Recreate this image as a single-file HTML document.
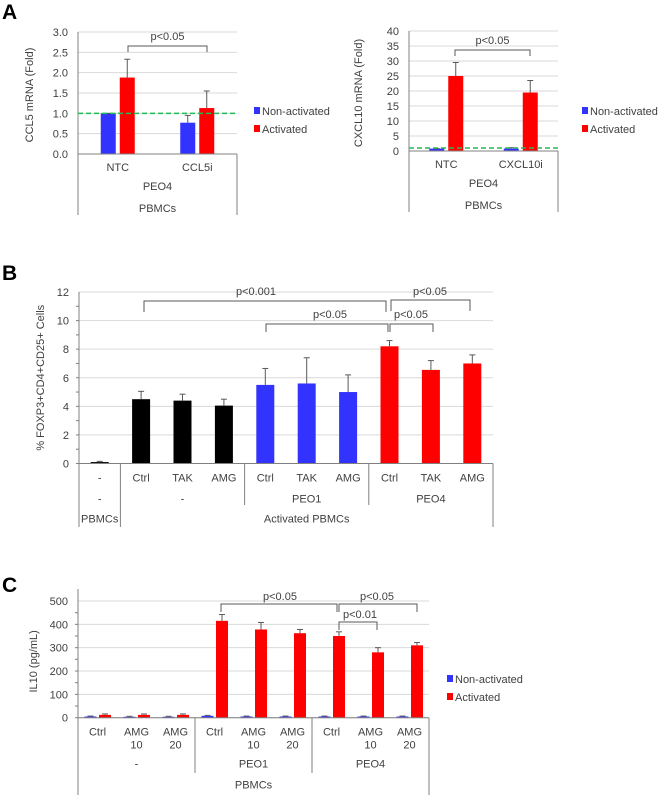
<!DOCTYPE html>
<html><head><meta charset="utf-8">
<style>
body{margin:0;background:#fff;width:661px;height:795px;overflow:hidden}
svg{display:block;font-family:"Liberation Sans",sans-serif}
</style></head>
<body>
<svg id="fig" width="661" height="795" viewBox="0 0 661 795"></svg>
<script>
// Panel A left (CCL5)
const aCats = ["NTC","CCL5i"];
const aBlue = [1.0, 0.77];
const aBlueErr = [1.0, 0.95];
const aRed = [1.88, 1.13];
const aRedErr = [2.33, 1.55];
const aTicks = ["0.0","0.5","1.0","1.5","2.0","2.5","3.0"];
// Panel A right (CXCL10)
const a2Cats = ["NTC","CXCL10i"];
const a2Blue = [0.8, 0.8];
const a2BlueErr = [0.8, 1.1];
const a2Red = [25, 19.5];
const a2RedErr = [29.5, 23.5];
const a2Ticks = ["0","5","10","15","20","25","30","35","40"];
// Panel B
const bCats = ["-","Ctrl","TAK","AMG","Ctrl","TAK","AMG","Ctrl","TAK","AMG"];
const bVals = [0.1,4.5,4.4,4.05,5.5,5.6,5.0,8.2,6.55,7.0];
const bErr = [0.15,5.05,4.85,4.5,6.65,7.4,6.2,8.6,7.2,7.6];
const bColors = ["#000","#000","#000","#000","#3333ff","#3333ff","#3333ff","#ff0000","#ff0000","#ff0000"];
const bTicks = ["0","2","4","6","8","10","12"];
// Panel C
const cCats1 = ["Ctrl","AMG","AMG","Ctrl","AMG","AMG","Ctrl","AMG","AMG"];
const cCats2 = ["","10","20","","10","20","","10","20"];
const cBlue = [5,4,4,8,5,5,5,5,5];
const cBlueErr = [7,6,6,10,7,7,7,7,7];
const cRed = [12,12,12,415,378,362,350,280,310];
const cRedErr = [16,16,16,442,408,378,368,300,322];
const cTicks = ["0","100","200","300","400","500"];

const svg = document.getElementById('fig');
const NS = "http://www.w3.org/2000/svg";
function el(tag, attrs, parent){
  const e = document.createElementNS(NS, tag);
  for (const k in attrs) e.setAttribute(k, attrs[k]);
  (parent||svg).appendChild(e);
  return e;
}
function txt(x,y,s,size,anchor,parent,extra){
  const t = el('text',{x:x,y:y,'font-size':size,'text-anchor':anchor||'middle',fill:'#404040'},parent);
  if(extra) for(const k in extra) t.setAttribute(k,extra[k]);
  t.textContent = s;
  return t;
}
function group(name){
  const g = el('g',{});
  
  
  return g;
}
function yAxis(g, x0, x1, yOf, ticks, minor){
  ticks.forEach(t=>{
    const v=parseFloat(t), y=yOf(v);
    const gl = el('line',{x1:x0,x2:x1,y1:y,y2:y,stroke:'#d9d9d9','stroke-width':1},g);
    
    
    const tl = txt(x0-10,y+4,t,11,'end',g);
    
    
  });
  if(minor){
    for(let i=0;i<ticks.length-1;i++){
      const a=parseFloat(ticks[i]), b=parseFloat(ticks[i+1]);
      [a,(a+b)/2].forEach(v=>el('line',{x1:x0-3,x2:x0,y1:yOf(v),y2:yOf(v),stroke:'#808080'},g));
    }
  }
}
function errBar(g,cx,y1,y2){
  el('line',{x1:cx,x2:cx,y1:y1,y2:y2,stroke:'#595959','stroke-width':1},g);
  el('line',{x1:cx-3,x2:cx+3,y1:y2,y2:y2,stroke:'#595959','stroke-width':1},g);
}
function bracket(g,xa,xb,top,bot,label,tx,ty){
  const p = el('path',{d:`M${xa},${bot}V${top}H${xb}V${bot}`,fill:'none',stroke:'#595959','stroke-width':1},g);
  
  
  const t = txt(tx,ty,label,11,'middle',g);
  
  
}
function legend(g,x,y){
  const r1 = el('rect',{x:x,y:y-4,width:6,height:7,fill:'#3333ff'},g);
  
  
  const t1 = txt(x+8,y+4,'Non-activated',11,'start',g);
  
  
  const r2 = el('rect',{x:x,y:y+14,width:6,height:7,fill:'#ff0000'},g);
  
  
  const t2 = txt(x+8,y+22,'Activated',11,'start',g);
  
  
}
function panelLetter(s,x,y){
  const t = el('text',{x:x,y:y,'font-size':21,'font-weight':'bold',fill:'#000'});
  t.textContent=s;
  
  
}

// ---------- Panel A ----------
panelLetter('A',2,19);
function panelA(name,cats,blue,blueErr,red,redErr,ticks,X0,X1,Y0,Ytop,vmax,ytitle,titleX,legX,brk){
  const g = group(name);
  const yOf = v => Y0 - v/vmax*(Y0-Ytop);
  yAxis(g,X0,X1,yOf,ticks,false);
  const cw = (X1-X0)/cats.length;
  cats.forEach((c,i)=>{
    const cx = X0+cw*(i+0.5);
    const bw = 15;
    const b = el('rect',{x:cx-bw-2,y:yOf(blue[i]),width:bw,height:Y0-yOf(blue[i]),fill:'#3333ff'},g);
    
    
    errBar(g,cx-bw/2-2,yOf(blue[i]),yOf(blueErr[i]));
    const r = el('rect',{x:cx+2,y:yOf(red[i]),width:bw,height:Y0-yOf(red[i]),fill:'#ff0000'},g);
    
    
    errBar(g,cx+2+bw/2,yOf(red[i]),yOf(redErr[i]));
    const l = txt(cx,Y0+17,c,11,'middle',g);
    
    
  });
  el('line',{x1:X0,x2:X0,y1:Ytop,y2:Y0+61,stroke:'#808080'},g);
  el('line',{x1:X1,x2:X1,y1:Y0,y2:Y0+61,stroke:'#808080'},g);
  el('line',{x1:X0,x2:X1,y1:Y0,y2:Y0,stroke:'#808080'},g);
  const dl = el('line',{x1:X0,x2:X1,y1:yOf(1),y2:yOf(1),stroke:'#22bb55','stroke-width':1.5,'stroke-dasharray':'5,3'},g);
  
  
  txt((X0+X1)/2,Y0+36,'PEO4',11,'middle',g);
  txt((X0+X1)/2,Y0+58,'PBMCs',11,'middle',g);
  const yt = txt(0,0,ytitle,11,'middle',g,{transform:`translate(${titleX},${(Y0+Ytop)/2+2}) rotate(-90)`});
  
  
  bracket(g,brk[0],brk[1],brk[2],brk[2]+6,'p<0.05',(brk[0]+brk[1])/2,brk[2]-6);
  legend(g,legX,111);
}
panelA('chart-ccl5',aCats,aBlue,aBlueErr,aRed,aRedErr,aTicks,78,237,154,32,3,'CCL5 mRNA (Fold)',33,254,[128,207,46]);
panelA('chart-cxcl10',a2Cats,a2Blue,a2BlueErr,a2Red,a2RedErr,a2Ticks,409,558,151,31,40,'CXCL10 mRNA (Fold)',362,582,[455,530,50]);

// ---------- Panel B ----------
panelLetter('B',2,280);
(function(){
  const g = group('chart-foxp3');
  const X0=79,X1=493,Y0=463.5,Ytop=292,vmax=12;
  const yOf = v => Y0 - v/vmax*(Y0-Ytop);
  yAxis(g,X0,X1,yOf,bTicks,true);
  const cw=(X1-X0)/bCats.length, bw=18;
  bCats.forEach((c,i)=>{
    const cx=X0+cw*(i+0.5);
    const r = el('rect',{x:cx-bw/2,y:yOf(bVals[i]),width:bw,height:Y0-yOf(bVals[i]),fill:bColors[i]},g);
    
    
    errBar(g,cx,yOf(bVals[i]),yOf(bErr[i]));
    txt(cx,Y0+18,c,11,'middle',g);
  });
  el('line',{x1:X0,x2:X1,y1:Y0,y2:Y0,stroke:'#808080'},g);
  el('line',{x1:X0,x2:X0,y1:Ytop,y2:527,stroke:'#808080'},g);
  el('line',{x1:X1,x2:X1,y1:Y0,y2:527,stroke:'#808080'},g);
  el('line',{x1:X0+cw,x2:X0+cw,y1:Y0,y2:527,stroke:'#808080'},g);
  el('line',{x1:X0+cw*4,x2:X0+cw*4,y1:Y0,y2:505,stroke:'#808080'},g);
  el('line',{x1:X0+cw*7,x2:X0+cw*7,y1:Y0,y2:505,stroke:'#808080'},g);
  txt(X0+cw*0.5,Y0+39,'-',11,'middle',g);
  txt(X0+cw*2.5,Y0+39,'-',11,'middle',g);
  txt(X0+cw*5.5,Y0+39,'PEO1',11,'middle',g);
  txt(X0+cw*8.5,Y0+39,'PEO4',11,'middle',g);
  txt(X0+cw*0.5,Y0+59,'PBMCs',11,'middle',g);
  txt(X0+cw*5.5,Y0+59,'Activated PBMCs',11,'middle',g);
  const yt = txt(0,0,'% FOXP3+CD4+CD25+ Cells',11,'middle',g,{transform:`translate(44,${(Y0+Ytop)/2}) rotate(-90)`});
  
  
  bracket(g,144,386,301,312,'p<0.001',256,295);
  bracket(g,266,388,324,332,'p<0.05',330,318);
  bracket(g,391,470,300,311,'p<0.05',430,295);
  bracket(g,390,433,324,332,'p<0.05',411,318);
})();

// ---------- Panel C ----------
panelLetter('C',2,592);
(function(){
  const g = group('chart-il10');
  const X0=78,X1=429,Y0=717.7,Ytop=601,vmax=500;
  const yOf = v => Y0 - v/vmax*(Y0-Ytop);
  yAxis(g,X0,X1,yOf,cTicks,true);
  const cw=(X1-X0)/cCats1.length, bw=12;
  cCats1.forEach((c,i)=>{
    const cx=X0+cw*(i+0.5);
    const b = el('rect',{x:cx-bw-1,y:yOf(cBlue[i]),width:bw,height:Y0-yOf(cBlue[i]),fill:'#3333ff'},g);
    
    
    errBar(g,cx-1-bw/2,yOf(cBlue[i]),yOf(cBlueErr[i]));
    const r = el('rect',{x:cx+1.5,y:yOf(cRed[i]),width:bw,height:Y0-yOf(cRed[i]),fill:'#ff0000'},g);
    
    
    errBar(g,cx+1.5+bw/2,yOf(cRed[i]),yOf(cRedErr[i]));
    txt(cx,Y0+18,c,11,'middle',g);
    if(cCats2[i]) txt(cx,Y0+31,cCats2[i],11,'middle',g);
  });
  el('line',{x1:X0,x2:X1,y1:Y0,y2:Y0,stroke:'#808080'},g);
  el('line',{x1:X0,x2:X0,y1:Ytop-12,y2:795,stroke:'#808080'},g);
  el('line',{x1:X1,x2:X1,y1:Y0,y2:795,stroke:'#808080'},g);
  el('line',{x1:X0+cw*3,x2:X0+cw*3,y1:Y0,y2:773,stroke:'#808080'},g);
  el('line',{x1:X0+cw*6,x2:X0+cw*6,y1:Y0,y2:773,stroke:'#808080'},g);
  txt(X0+cw*1.5,Y0+50,'-',11,'middle',g);
  txt(X0+cw*4.5,Y0+50,'PEO1',11,'middle',g);
  txt(X0+cw*7.5,Y0+50,'PEO4',11,'middle',g);
  txt(X0+cw*4.5,Y0+71,'PBMCs',11,'middle',g);
  const yt = txt(0,0,'IL10 (pg/mL)',11,'middle',g,{transform:`translate(37,${(Y0+Ytop)/2+2}) rotate(-90)`});
  
  
  bracket(g,221,337,604,612,'p<0.05',280,600);
  bracket(g,339,417,604,612,'p<0.05',377,600);
  bracket(g,339,377,622,630,'p<0.01',360,618);
  legend(g,447,679);
})();
</script>
</body></html>
